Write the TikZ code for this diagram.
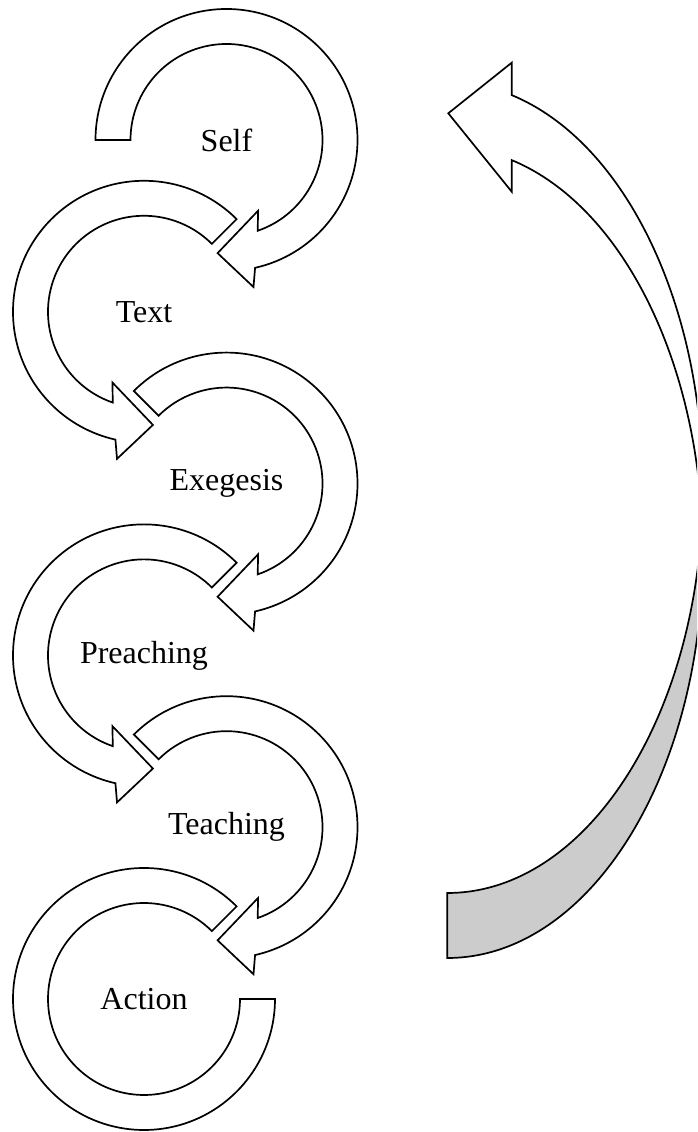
\documentclass[tikz,border=0pt]{standalone}
\usepackage{fontspec}
\setmainfont{Liberation Serif}
\usetikzlibrary{calc}
\begin{document}
\begin{tikzpicture}[x=1pt,y=1pt,
  band/.style={draw=black, fill=white, line width=1.7pt, line join=miter},
  underside/.style={draw=black, fill=gray!40, line width=1.7pt, line join=miter},
  lbl/.style={font=\fontsize{32}{38}\selectfont, inner sep=0pt},
  pics/cwarrow/.style={code={
    \path[band] (#1:131) arc[start angle=#1, end angle=-77.4, radius=131]
      -- (-79.6:149.5) -- (-94.5:113.5) -- (-66:77.5) -- (-71:96)
      arc[start angle=-71, end angle=#1, radius=96] -- cycle;
  }}]
\useasboundingbox (0,0) rectangle (697,1132);
% circle centres
\coordinate (cSelf) at (226.5,992);
\coordinate (cText) at (144,820.2);
\coordinate (cExeg) at (226.5,648.4);
\coordinate (cPrea) at (144,476.6);
\coordinate (cTeac) at (226.5,304.8);
\coordinate (cActi) at (144,133);
% circular arrows
\pic at (cSelf) {cwarrow=180};
\pic[xscale=-1] at (cText) {cwarrow=135};
\pic at (cExeg) {cwarrow=135};
\pic[xscale=-1] at (cPrea) {cwarrow=135};
\pic at (cTeac) {cwarrow=135};
\begin{scope}[shift={(cActi)}]
  \path[band] (45:131) arc[start angle=45, end angle=360, radius=131]
    -- (0:96) arc[start angle=360, end angle=45, radius=96] -- cycle;
\end{scope}
% labels
\node[lbl] (self) at (cSelf) {Self};
\node[lbl] (text) at (cText) {Text};
\node[lbl] (exegesis) at (cExeg) {Exegesis};
\node[lbl] (preaching) at (cPrea) {Preaching};
\node[lbl] (teaching) at (cTeac) {Teaching};
\node[lbl] (action) at (cActi) {Action};
% big curved return arrow (its right part runs off the picture)
\coordinate (E1) at (447.3,644.5);
\coordinate (E2) at (447.3,579.5);
\begin{scope}
\clip (0,0) rectangle (697,1132);
\path[underside] ($(E1)+(-90:255.5pt and 405.5pt)$)
  arc[start angle=-90, end angle=0, x radius=255.5, y radius=405.5]
  -- ++(20,0) -- ($(E2)+(20,0)+(0:255.5pt and 405.5pt)$)
  -- ($(E2)+(0:255.5pt and 405.5pt)$)
  arc[start angle=0, end angle=-90, x radius=255.5, y radius=405.5]
  -- cycle;
\path[band] (511.7,1069.3) -- (448.3,1018.7) -- (511.7,940.3)
  -- ($(E2)+(75.4:255.5pt and 405.5pt)$)
  arc[start angle=75.4, end angle=0, x radius=255.5, y radius=405.5]
  -- ++(20,0) -- ($(E1)+(20,0)+(0:255.5pt and 405.5pt)$)
  -- ($(E1)+(0:255.5pt and 405.5pt)$)
  arc[start angle=0, end angle=75.4, x radius=255.5, y radius=405.5]
  -- cycle;
\end{scope}
\end{tikzpicture}
\end{document}
